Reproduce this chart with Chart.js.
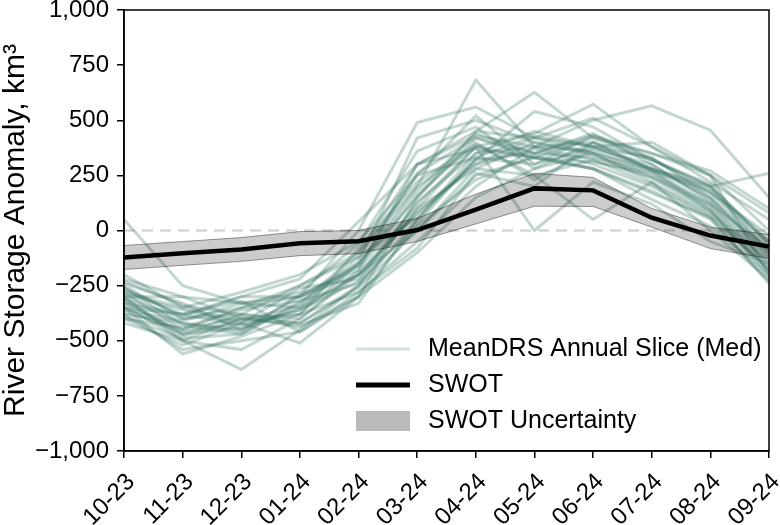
<!DOCTYPE html>
<html>
<head>
<meta charset="utf-8">
<script src="https://cdn.jsdelivr.net/npm/chart.js@4.4.1/dist/chart.umd.min.js"></script>
<style>
  html, body { margin: 0; padding: 0; background: #fff; }
  #wrap { width: 780px; height: 525px; }
</style>
</head>
<body>
<div id="wrap"><canvas id="myChart" width="780" height="525"></canvas></div>
<script>
const months = ['10-23', '11-23', '12-23', '01-24', '02-24', '03-24', '04-24', '05-24', '06-24', '07-24', '08-24', '09-24'];

const swot = [-122, -103, -86, -58, -49, 2, 95, 191, 182, 58, -23, -73];
const swotUpper = [-68, -50, -32, -5, 0, 55, 165, 259, 241, 100, 15, -18];
const swotLower = [-177, -158, -140, -114, -105, -50, 30, 110, 109, 15, -82, -127];
const zeroLine = [0, 0, 0, 0, 0, 0, 0, 0, 0, 0, 0, 0];

const yTicks = [-1000, -750, -500, -250, 0, 250, 500, 750, 1000];

// one row per annual slice of MeanDRS (median)
const meanDrsSlices = [
  [50, -250, -330, -300, -200, 80, 300, 420, 350, 250, 120, -150],
  [-300, -500, -630, -450, -250, 50, 350, 450, 380, 280, 150, -100],
  [-350, -560, -480, -380, -150, 200, 682, 380, 400, 320, 200, -50],
  [-400, -520, -420, -510, -300, 150, 450, 627, 420, 350, 250, 0],
  [-250, -400, -380, -250, -100, 300, 430, 380, 500, 565, 455, 150],
  [-280, -450, -350, -300, 0, 490, 560, 420, 380, 280, 200, 260],
  [-320, -480, -400, -420, -250, 100, 380, 440, 573, 380, 250, -200],
  [-380, -420, -450, -350, -200, 0, 250, 330, 280, 180, 50, -230],
  [-200, -350, -280, -200, -50, 250, 520, 300, 430, 330, 150, -120],
  [-420, -500, -400, -380, -280, -50, 200, 380, 360, 270, 100, -180],
  [-300, -300, -400, -430, -330, 50, 320, 540, 470, 320, 200, -100],
  [-350, -380, -300, -300, -150, 150, 420, 350, 330, 270, 120, -80],
  [-260, -430, -470, -330, -100, 200, 380, 0, 220, 120, -50, -150],
  [-330, -460, -420, -260, -220, 100, 280, 250, 50, 220, 80, -140],
  [-230, -340, -380, -400, -180, 300, 450, 420, 510, 380, 220, 50],
  [-380, -540, -500, -460, -300, -100, 150, 280, 350, 220, 0, -220],
  [-300, -400, -350, -250, -120, 250, 330, 430, 380, 400, 250, 80],
  [-270, -380, -430, -360, -200, 120, 380, 330, 280, 170, 60, -170],
  [-360, -410, -330, -280, -60, 360, 470, 280, 400, 270, 180, -60],
  [-310, -470, -380, -420, -260, 0, 280, 400, 340, 240, 90, -190],
  [-240, -330, -450, -300, -160, 180, 440, 350, 440, 300, 140, -110],
  [-400, -440, -360, -320, -240, 30, 330, 300, 380, 330, 170, -90],
  [-290, -360, -420, -380, -80, 220, 390, 250, 320, 240, 110, -160],
  [-340, -500, -540, -400, -200, 80, 300, 370, 300, 200, 60, -240],
  [-220, -300, -330, -350, -140, 420, 500, 400, 350, 280, 170, -20],
  [-370, -450, -390, -440, -300, 20, 230, 340, 280, 140, 20, -200],
  [-260, -390, -300, -220, 40, 300, 370, 330, 420, 320, 210, -70],
  [-310, -420, -460, -290, -180, 160, 400, 230, 370, 300, 130, -130],
  [-280, -350, -410, -340, -120, 60, 320, 350, 430, 350, 270, 100],
  [-350, -470, -440, -360, -230, 130, 350, 380, 320, 210, 70, -180],
  [-330, -380, -320, -460, -280, -80, 260, 200, 400, 280, 190, -50],
  [-390, -490, -470, -320, -160, 260, 420, 330, 310, 260, 90, -210]
];

const sliceColor = 'rgba(60, 120, 105, 0.3)';
const fontFamily = '"Liberation Sans", Arial, sans-serif';

function fmtTick(v) {
  const s = Math.abs(v).toLocaleString('en-US');
  return v < 0 ? '\u2212' + s : s;
}

// box round the plot + legend in the lower right corner
const frameAndLegend = {
  id: 'frameAndLegend',
  afterDraw(chart) {
    const ctx = chart.ctx;
    const a = chart.chartArea;
    ctx.save();
    ctx.strokeStyle = '#000';
    ctx.lineWidth = 1.5;
    ctx.strokeRect(a.left, a.top, a.right - a.left, a.bottom - a.top);

    const x0 = a.right - 413;
    const x1 = a.right - 359;
    const tx = a.right - 341;
    const rows = [a.bottom - 102, a.bottom - 66, a.bottom - 30];

    ctx.lineCap = 'butt';
    ctx.strokeStyle = 'rgba(60, 120, 105, 0.22)';
    ctx.lineWidth = 3;
    ctx.beginPath(); ctx.moveTo(x0, rows[0]); ctx.lineTo(x1, rows[0]); ctx.stroke();

    ctx.strokeStyle = '#000';
    ctx.lineWidth = 5;
    ctx.beginPath(); ctx.moveTo(x0, rows[1]); ctx.lineTo(x1, rows[1]); ctx.stroke();

    ctx.fillStyle = 'rgba(0, 0, 0, 0.27)';
    ctx.fillRect(x0, rows[2] - 10, x1 - x0, 20);

    ctx.fillStyle = '#000';
    ctx.font = '25px ' + fontFamily;
    ctx.textBaseline = 'middle';
    ctx.textAlign = 'left';
    ctx.fillText('MeanDRS Annual Slice (Med)', tx, rows[0]);
    ctx.fillText('SWOT', tx, rows[1]);
    ctx.fillText('SWOT Uncertainty', tx, rows[2]);
    ctx.restore();
  }
};

const datasets = [];
datasets.push({
  label: 'SWOT',
  data: swot,
  borderColor: '#000',
  borderWidth: 4.5,
  pointRadius: 0,
  fill: false,
  order: 0
});
datasets.push({
  label: 'SWOT Uncertainty',
  data: swotUpper,
  borderColor: 'rgba(0, 0, 0, 0.4)',
  borderWidth: 1,
  backgroundColor: 'rgba(0, 0, 0, 0.2)',
  pointRadius: 0,
  fill: '+1',
  order: 1
});
datasets.push({
  label: 'SWOT Uncertainty lower',
  data: swotLower,
  borderColor: 'rgba(0, 0, 0, 0.4)',
  borderWidth: 1,
  pointRadius: 0,
  fill: false,
  order: 1
});
meanDrsSlices.forEach((slice, i) => {
  datasets.push({
    label: 'MeanDRS Annual Slice (Med)',
    data: slice,
    borderColor: sliceColor,
    borderWidth: 3,
    pointRadius: 0,
    fill: false,
    order: 2
  });
});
datasets.push({
  label: 'zero',
  data: zeroLine,
  borderColor: 'rgba(0, 0, 0, 0.17)',
  borderWidth: 2.5,
  borderDash: [11, 7],
  pointRadius: 0,
  fill: false,
  order: 3
});

const ctx = document.getElementById('myChart').getContext('2d');
new Chart(ctx, {
  type: 'line',
  data: { labels: months, datasets: datasets },
  options: {
    responsive: false,
    animation: false,
    devicePixelRatio: 1,
    events: [],
    layout: { padding: { top: 10, right: 11, left: 0, bottom: 0 } },
    elements: { line: { tension: 0, borderJoinStyle: 'miter' } },
    plugins: {
      legend: { display: false },
      tooltip: { enabled: false }
    },
    scales: {
      x: {
        type: 'category',
        offset: false,
        grid: { display: true, drawOnChartArea: false, drawTicks: true, tickLength: 7, color: '#000', lineWidth: 1.5 },
        border: { display: true, color: '#000', width: 1.5 },
        ticks: {
          autoSkip: false,
          minRotation: 45,
          maxRotation: 45,
          padding: 10,
          labelOffset: 7,
          color: '#000',
          font: { size: 24, family: fontFamily }
        },
        afterFit(scale) {
          scale.height = 74;
          scale.paddingLeft = 0;
          scale.paddingRight = 0;
        }
      },
      y: {
        min: -1000,
        max: 1000,
        afterBuildTicks(scale) {
          scale.ticks = yTicks.map(v => ({ value: v }));
        },
        grid: { display: true, drawOnChartArea: false, drawTicks: true, tickLength: 7, color: '#000', lineWidth: 1.5 },
        border: { display: true, color: '#000', width: 1.5 },
        ticks: {
          padding: 8,
          color: '#000',
          font: { size: 24, family: fontFamily },
          callback: v => fmtTick(v)
        },
        title: {
          display: true,
          text: 'River Storage Anomaly, km\u00b3',
          color: '#000',
          font: { size: 30, family: fontFamily },
          padding: { top: -2, bottom: 0 }
        },
        afterFit(scale) {
          scale.width = 124;
          scale.paddingTop = 0;
          scale.paddingBottom = 0;
        }
      }
    }
  },
  plugins: [frameAndLegend]
});
</script>
</body>
</html>
